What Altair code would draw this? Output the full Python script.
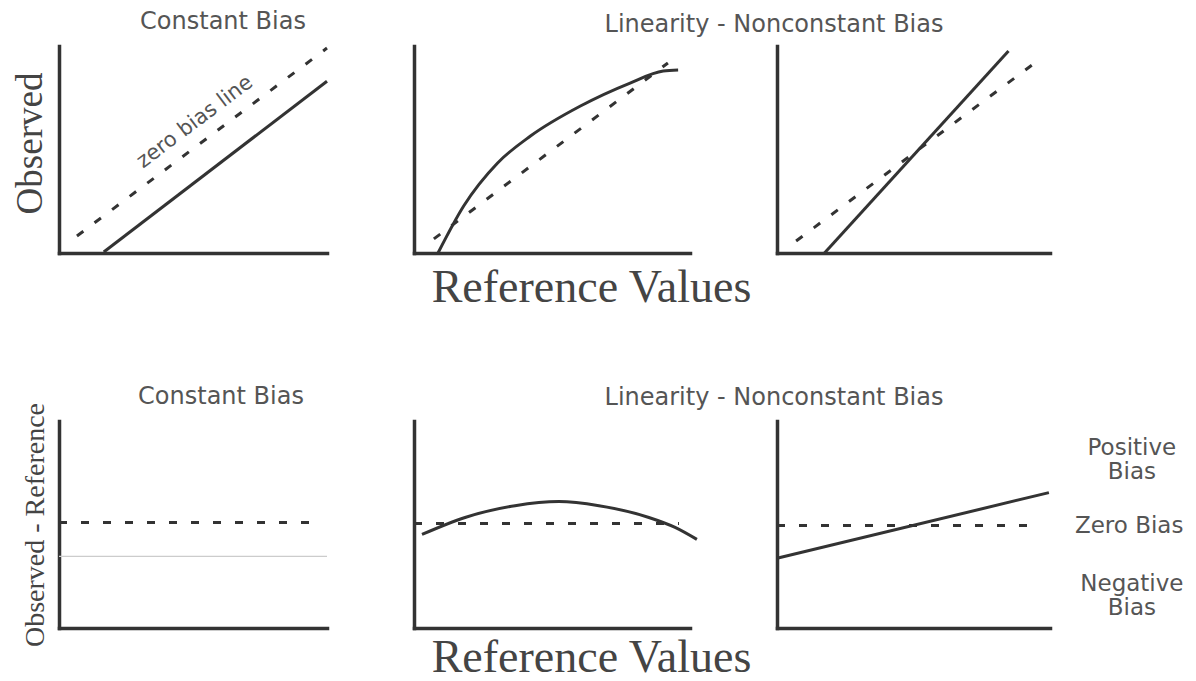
import altair as alt
import pandas as pd

# ---------------- data (plot units 0-100 on both axes) ----------------
# Top row: Observed vs Reference values
p1_zero_x = [6.7, 100]
p1_zero_y = [8.2, 99]
p1_obs_x = [16.7, 100]
p1_obs_y = [0.5, 83]

p2_zero_x = [7.2, 92]
p2_zero_y = [6.8, 91.8]
p2_obs_x = [8.7, 18, 30.3, 42.2, 60.3, 78.3, 90.3, 95.7]
p2_obs_y = [0, 22.7, 43.5, 56.5, 71, 82.1, 87.9, 88.4]

p3_zero_x = [7, 94.4]
p3_zero_y = [5.8, 91.8]
p3_obs_x = [17.4, 84.8]
p3_obs_y = [0, 97.6]

# Bottom row: Observed - Reference (bias)
p4_zero_x = [0, 97]
p4_zero_y = [51, 51]
p4_bias_x = [0, 100]
p4_bias_y = [34.6, 34.6]

p5_zero_x = [0, 96]
p5_zero_y = [50.5, 50.5]
p5_bias_x = [2.9, 18.5, 36.6, 52.5, 67, 85.1, 94.6, 102.5]
p5_bias_y = [45.2, 53.4, 59.1, 61.1, 59.1, 53.4, 48.6, 42.8]

p6_zero_x = [0, 96]
p6_zero_y = [49.5, 49.5]
p6_bias_x = [0, 99.6]
p6_bias_y = [33.7, 65.4]

zero_label = ["zero bias line"]
zero_label_x = [50.7]
zero_label_y = [63.3]

bias_labels = ["Positive\nBias", "Zero Bias", "Negative\nBias"]
bias_label_x = [130, 129, 130]
bias_label_y = [87, 49.5, 21.3]

# ---------------- style ----------------
SERIF = "Liberation Serif"
SANS = "DejaVu Sans"
INK = "#333333"
TXT = "#555555"


def df(xs, ys):
    return pd.DataFrame({"x": xs, "y": ys, "i": list(range(len(xs)))})


def enc(xaxis, yaxis):
    sc = alt.Scale(domain=[0, 100], nice=False, zero=False)
    return (alt.X("x:Q", scale=sc, axis=xaxis),
            alt.Y("y:Q", scale=sc, axis=yaxis))


def bare():
    return alt.Axis(title=None)


def left_title(text, size, pad, ty=None):
    kw = dict(title=text, titleFont=SERIF, titleFontSize=size,
              titleFontWeight="normal", titleColor="#444444", titlePadding=pad)
    if ty is not None:
        kw["titleY"] = ty
    return alt.Axis(**kw)


def bottom_title(text, pad):
    return alt.Axis(title=text, titleFont=SERIF, titleFontSize=46,
                    titleFontWeight="normal", titleColor="#444444",
                    titleBaseline="alphabetic",
                    titlePadding=pad, titleX=177, titleAlign="center")


def solid(d, X, Y, color=INK, width=3):
    return alt.Chart(d).mark_line(color=color, strokeWidth=width,
                                  interpolate="monotone").encode(x=X, y=Y, order="i:O")


def dashed(d, X, Y):
    return alt.Chart(d).mark_line(color=INK, strokeWidth=3,
                                  strokeDash=[8, 14]).encode(x=X, y=Y, order="i:O")


def ptitle(text, dx, off):
    return alt.TitleParams(text, dx=dx, offset=off, baseline="bottom", frame="group",
                           font=SANS, fontSize=24, fontWeight="normal",
                           color=TXT, anchor="middle")


W1, W2, W3, H = 268, 276, 273, 207

# Panel 1
X, Y = enc(bare(), left_title("Observed", 37, 10, 97))
lab = pd.DataFrame({"x": zero_label_x, "y": zero_label_y, "t": zero_label})
p1 = alt.layer(
    dashed(df(p1_zero_x, p1_zero_y), X, Y),
    solid(df(p1_obs_x, p1_obs_y), X, Y),
    alt.Chart(lab).mark_text(angle=323, font=SANS, fontSize=21, color=TXT).encode(
        x=X, y=Y, text="t:N"),
).properties(width=W1, height=H, title=ptitle("Constant Bias", 30, -16))

# Panel 2
X, Y = enc(bottom_title("Reference Values", 48), bare())
p2 = alt.layer(
    dashed(df(p2_zero_x, p2_zero_y), X, Y),
    solid(df(p2_obs_x, p2_obs_y), X, Y),
).properties(width=W2, height=H, title=ptitle("Linearity - Nonconstant Bias", 222, -15))

# Panel 3
X, Y = enc(bare(), bare())
p3 = alt.layer(
    dashed(df(p3_zero_x, p3_zero_y), X, Y),
    solid(df(p3_obs_x, p3_obs_y), X, Y),
).properties(width=W3, height=H)

# Panel 4
X, Y = enc(bare(), left_title("Observed - Reference", 28, 10))
p4 = alt.layer(
    solid(df(p4_bias_x, p4_bias_y), X, Y, color="#cccccc", width=1.2),
    dashed(df(p4_zero_x, p4_zero_y), X, Y),
).properties(width=W1, height=H, title=ptitle("Constant Bias", 28, -31))

# Panel 5
X, Y = enc(bottom_title("Reference Values", 43), bare())
p5 = alt.layer(
    dashed(df(p5_zero_x, p5_zero_y), X, Y),
    solid(df(p5_bias_x, p5_bias_y), X, Y),
).properties(width=W2, height=H, title=ptitle("Linearity - Nonconstant Bias", 222, -13))

# Panel 6
X, Y = enc(bare(), bare())
blab = pd.DataFrame({"x": bias_label_x, "y": bias_label_y, "t": bias_labels})
p6 = alt.layer(
    dashed(df(p6_zero_x, p6_zero_y), X, Y),
    solid(df(p6_bias_x, p6_bias_y), X, Y),
    alt.Chart(blab).mark_text(font=SANS, fontSize=23, color=TXT, lineBreak="\n",
                              lineHeight=24, align="center", baseline="middle").encode(
        x=X, y=Y, text="t:N"),
).properties(width=W3, height=H)

chart = alt.concat(
    p1, p2, p3, p4, p5, p6,
    columns=3,
    spacing=alt.RowColnumber(row=168, column=87),
    bounds="flush",
).properties(
    padding={"left": 2, "top": 1, "right": 0, "bottom": 0}
).configure_view(stroke="transparent").configure_axis(
    domainColor=INK, domainWidth=3.5, domainCap="square",
    ticks=False, labels=False, grid=False,
).configure_concat(spacing=87)

chart.save("out.html", embed_options={"renderer": "svg", "actions": False})
